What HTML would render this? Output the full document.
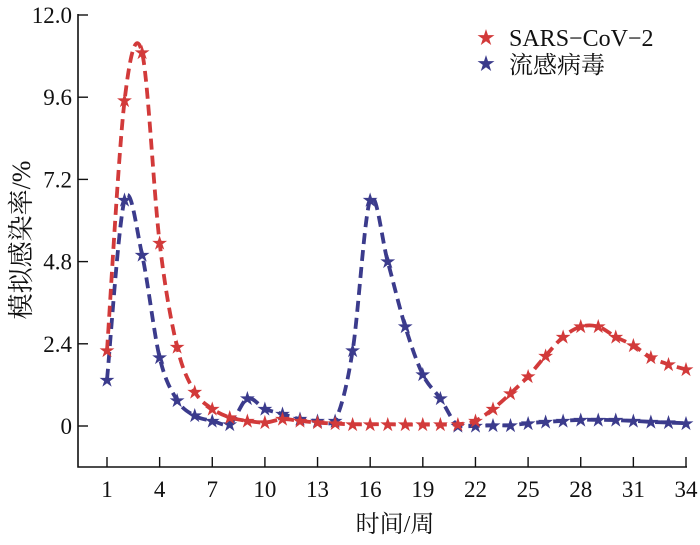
<!DOCTYPE html>
<html><head><meta charset="utf-8"><style>
body{margin:0;background:#fff}
svg text{font-family:"Liberation Serif","Noto Serif CJK SC",serif;fill:#111}
</style></head><body>
<svg id="s" width="700" height="540" viewBox="0 0 700 540" xmlns="http://www.w3.org/2000/svg">
<g stroke="#111" stroke-width="1.6" fill="none">
<path d="M78,14 V467 H687"/>
</g>
<g id="ticks" stroke="#111" stroke-width="1.4"></g>
<g id="lbl" font-size="23"></g>
<text x="30" y="240" font-size="26" text-anchor="middle" transform="rotate(-90 30 240)" font-family="Liberation Serif,'Noto Sans CJK SC',sans-serif">模拟感染率/%</text>
<text x="395" y="532" font-size="24" text-anchor="middle" font-family="'Noto Sans CJK SC',sans-serif">时间/周</text>
<g id="series"></g>
<text x="486" y="44" font-size="18" text-anchor="middle" style="fill:#d23a3a">★</text>
<text x="509" y="46" font-size="24">SARS−CoV−2</text>
<text x="486" y="70" font-size="18" text-anchor="middle" style="fill:#3b3b8c">★</text>
<text x="509" y="73" font-size="24">流感病毒</text>
</svg>
<script>
const X=w=>107+(w-1)*(579/33), Y=v=>426-v*34.25;
const NS="http://www.w3.org/2000/svg";
const tk=document.getElementById('ticks'),lb=document.getElementById('lbl');
function el(p,t,a,txt){const e=document.createElementNS(NS,t);for(const k in a)e.setAttribute(k,a[k]);if(txt!=null)e.textContent=txt;p.appendChild(e);return e;}
[0,2.4,4.8,7.2,9.6,12].forEach(v=>{el(tk,'line',{x1:78,x2:88,y1:Y(v),y2:Y(v)});el(lb,'text',{x:72,y:Y(v)+8,'text-anchor':'end'},v==0?'0':v.toFixed(1));});
for(let w=1;w<=34;w+=3){el(tk,'line',{x1:X(w),x2:X(w),y1:457,y2:467});el(lb,'text',{x:X(w),y:497,'text-anchor':'middle'},w);}
const red=[2.2,9.5,10.9,5.35,2.3,1.0,0.5,0.25,0.15,0.1,0.2,0.15,0.1,0.07,0.05,0.05,0.05,0.04,0.04,0.04,0.05,0.15,0.5,0.95,1.45,2.05,2.6,2.9,2.9,2.6,2.35,2.0,1.8,1.65];
const blue=[1.35,6.6,5.0,2.0,0.75,0.3,0.15,0.05,0.8,0.5,0.35,0.2,0.15,0.15,2.2,6.6,4.8,2.9,1.5,0.8,0,0,0.02,0.02,0.08,0.12,0.15,0.18,0.18,0.17,0.15,0.12,0.1,0.08];
const sg=document.getElementById('series');
function draw(d,c){
 const p=d.map((v,i)=>[X(i+1),Y(v)]);
 let s=`M${p[0][0]},${p[0][1]}`;
 for(let i=0;i<p.length-1;i++){const p0=p[Math.max(i-1,0)],p1=p[i],p2=p[i+1],p3=p[Math.min(i+2,p.length-1)];
  const c1=[p1[0]+(p2[0]-p0[0])/6,p1[1]+(p2[1]-p0[1])/6],c2=[p2[0]-(p3[0]-p1[0])/6,p2[1]-(p3[1]-p1[1])/6];
  s+=` C${c1[0]},${Math.min(c1[1],426.5)} ${c2[0]},${Math.min(c2[1],426.5)} ${p2[0]},${p2[1]}`;}
 el(sg,'path',{d:s,fill:'none',stroke:c,'stroke-width':3.8,'stroke-dasharray':'11 6'});
 p.forEach(q=>el(sg,'text',{x:q[0],y:q[1]+5.5,'text-anchor':'middle','font-size':16,style:'fill:'+c},'★'));
}
draw(blue,'#3b3b8c');
draw(red,'#d23a3a');
</script>
</body></html>
